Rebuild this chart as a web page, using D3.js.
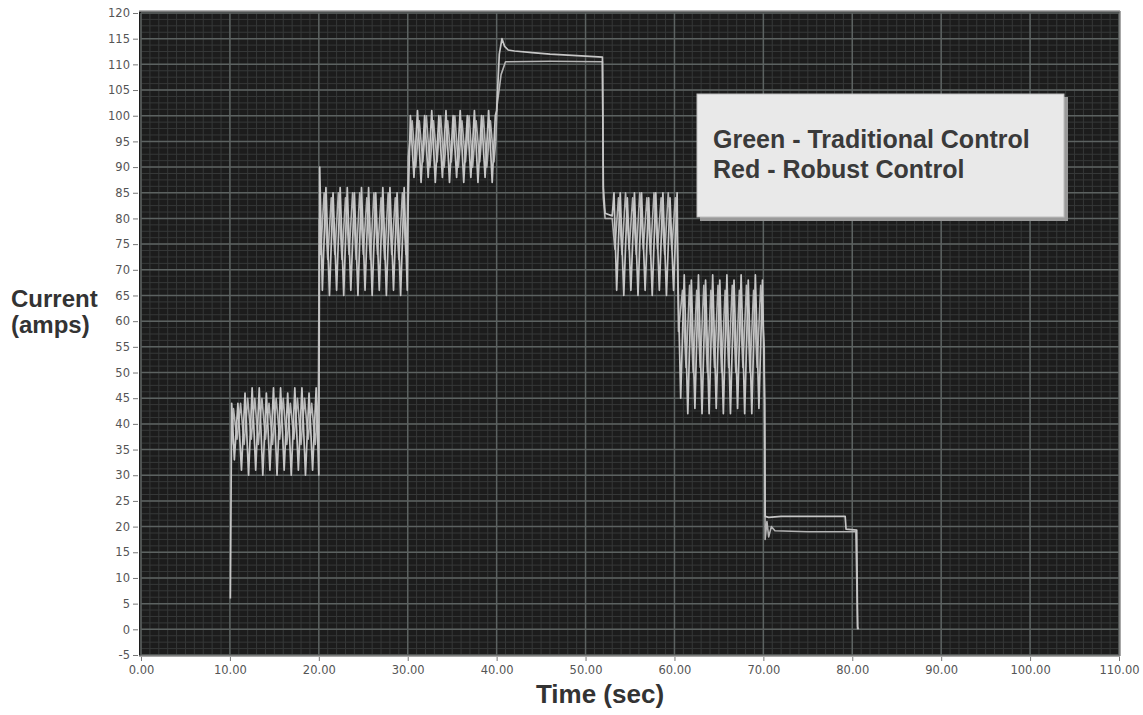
<!DOCTYPE html>
<html>
<head>
<meta charset="utf-8">
<script src="https://cdn.jsdelivr.net/npm/d3@7"></script>
<style>
  body { margin: 0; background: #fff; }
  svg { display: block; font-family: "Liberation Sans", Arial, sans-serif; }
  .tick text { font-family: "DejaVu Sans", sans-serif; font-size: 11.5px; fill: #555; }
  .tick line { stroke: #777; }
  .domain { display: none; }
</style>
</head>
<body>
<div id="chart"></div>
<script>
// Traditional control (large oscillation), time in sec, current in amps
var tradTime = [
  10.05, 10.2,
  10.5, 10.9, 11.3, 11.7, 12.1, 12.5, 12.9, 13.3, 13.7, 14.1, 14.5, 14.9, 15.3, 15.7, 16.1, 16.5, 16.9, 17.3, 17.7, 18.1, 18.5, 18.9, 19.3, 19.7, 20.0,
  20.1, 20.4, 20.8, 21.2, 21.6, 22.0, 22.4, 22.8, 23.2, 23.6, 24.0, 24.4, 24.8, 25.2, 25.6, 26.0, 26.4, 26.8, 27.2, 27.6, 28.0, 28.4, 28.8, 29.2, 29.6, 29.95,
  30.05, 30.3, 30.7, 31.1, 31.5, 31.9, 32.3, 32.7, 33.1, 33.5, 33.9, 34.3, 34.7, 35.1, 35.5, 35.9, 36.3, 36.7, 37.1, 37.5, 37.9, 38.3, 38.7, 39.1, 39.5, 39.85,
  40.0, 40.3, 40.6, 40.9, 41.3, 42, 44, 46, 48, 50, 51.9, 52.0, 52.2, 53.0,
  53.2, 53.5, 53.9, 54.3, 54.7, 55.1, 55.5, 55.9, 56.3, 56.7, 57.1, 57.5, 57.9, 58.3, 58.7, 59.1, 59.5, 59.9, 60.3,
  60.4, 60.7, 61.1, 61.5, 61.9, 62.3, 62.7, 63.1, 63.5, 63.9, 64.3, 64.7, 65.1, 65.5, 65.9, 66.3, 66.7, 67.1, 67.5, 67.9, 68.3, 68.7, 69.1, 69.5, 69.9, 70.15,
  70.2, 70.6, 72, 75, 79.2, 79.3, 80.5, 80.6
];
var tradCurrent = [
  6, 44,
  33, 44, 31, 46, 30, 47, 31, 47, 30, 46, 31, 47, 30, 47, 31, 46, 30, 47, 31, 47, 30, 46, 31, 47, 30,
  90, 66, 86, 65, 85, 66, 86, 65, 86, 66, 85, 65, 86, 66, 86, 65, 85, 66, 86, 65, 86, 66, 85, 65, 86, 66,
  83, 100, 88, 101, 87, 100, 88, 101, 87, 100, 88, 101, 87, 100, 88, 101, 87, 100, 88, 101, 87, 100, 88, 101, 87, 100,
  101, 112, 115, 113.5, 112.8, 112.6, 112.3, 112.0, 111.8, 111.6, 111.4, 86, 81, 80.5,
  85, 66, 85, 65, 84, 66, 85, 65, 85, 66, 84, 65, 85, 66, 85, 65, 84, 66, 85,
  68, 45, 69, 42, 68, 43, 69, 42, 68, 42, 69, 43, 68, 42, 69, 42, 68, 43, 69, 42, 68, 42, 69, 43, 68, 44,
  22, 21.8, 22, 22, 22, 19.5, 19.3, 0
];

// Robust control (smaller ripple, settles cleanly on the flat steps)
var robustTime = [
  10.2, 10.4, 10.8, 11.2, 11.6, 12.0, 12.4, 12.8, 13.2, 13.6, 14.0, 14.4, 14.8, 15.2, 15.6, 16.0, 16.4, 16.8, 17.2, 17.6, 18.0, 18.4, 18.8, 19.2, 19.6, 19.95,
  20.05, 20.2, 20.6, 21.0, 21.4, 21.8, 22.2, 22.6, 23.0, 23.4, 23.8, 24.2, 24.6, 25.0, 25.4, 25.8, 26.2, 26.6, 27.0, 27.4, 27.8, 28.2, 28.6, 29.0, 29.4, 29.8, 29.95,
  30.05, 30.5, 30.9, 31.3, 31.7, 32.1, 32.5, 32.9, 33.3, 33.7, 34.1, 34.5, 34.9, 35.3, 35.7, 36.1, 36.5, 36.9, 37.3, 37.7, 38.1, 38.5, 38.9, 39.3, 39.7, 39.9,
  40.05, 40.5, 41, 46, 51.9, 52.0, 52.2, 53.0,
  53.3, 53.7, 54.1, 54.5, 54.9, 55.3, 55.7, 56.1, 56.5, 56.9, 57.3, 57.7, 58.1, 58.5, 58.9, 59.3, 59.7, 60.1, 60.3,
  60.45, 60.9, 61.3, 61.7, 62.1, 62.5, 62.9, 63.3, 63.7, 64.1, 64.5, 64.9, 65.3, 65.7, 66.1, 66.5, 66.9, 67.3, 67.7, 68.1, 68.5, 68.9, 69.3, 69.7, 70.1,
  70.2, 70.4, 70.6, 70.9, 71.3, 75, 80.4, 80.6, 80.7
];
var robustCurrent = [
  36, 43, 37, 44, 36, 45, 37, 45, 36, 45, 37, 44, 36, 45, 37, 45, 36, 44, 37, 45, 36, 45, 37, 44, 36, 45,
  80, 73, 85, 72, 84, 73, 85, 72, 84, 73, 85, 72, 85, 73, 84, 72, 85, 73, 84, 72, 85, 73, 84, 72, 85, 73, 80,
  92, 99, 90, 99, 91, 100, 90, 99, 91, 100, 90, 99, 91, 100, 90, 99, 91, 100, 90, 99, 91, 100, 90, 99, 91, 95,
  102, 108, 110.5, 110.6, 110.5, 84, 80, 80,
  74, 84, 73, 85, 74, 84, 73, 85, 74, 84, 73, 85, 74, 84, 73, 85, 74, 84, 77,
  58, 66, 51, 67, 50, 66, 51, 67, 50, 66, 51, 67, 50, 66, 51, 67, 50, 66, 51, 67, 50, 66, 51, 67, 55,
  17.5, 21, 18, 20, 19.2, 19, 19, 0.5, 0
];

var yTicks = d3.range(-5, 121, 5);
var xTicks = d3.range(0, 111, 10);
var legendLines = ["Green - Traditional Control", "Red - Robust Control"];

var width = 1143, height = 715;
var plot = { left: 141, right: 1119, top: 13, bottom: 655 };

var svg = d3.select("#chart").append("svg")
    .attr("width", width)
    .attr("height", height);

var x = d3.scaleLinear().domain([0, 110]).range([plot.left, plot.right]);
var y = d3.scaleLinear().domain([-5, 120]).range([plot.bottom, plot.top]);

// plot background
svg.append("rect")
    .attr("x", plot.left - 2)
    .attr("y", plot.top - 2)
    .attr("width", plot.right - plot.left + 3)
    .attr("height", plot.bottom - plot.top + 3)
    .attr("fill", "#1c1c1c");

var grid = svg.append("g");

// minor grid
grid.selectAll(".vminor")
    .data(d3.range(0, 110.01, 1))
    .enter().append("line")
    .attr("x1", function(d) { return x(d); })
    .attr("x2", function(d) { return x(d); })
    .attr("y1", plot.top)
    .attr("y2", plot.bottom)
    .attr("stroke", "#363838")
    .attr("stroke-width", 1);

grid.selectAll(".hminor")
    .data(d3.range(-5, 120.01, 1.25))
    .enter().append("line")
    .attr("x1", plot.left)
    .attr("x2", plot.right)
    .attr("y1", function(d) { return y(d); })
    .attr("y2", function(d) { return y(d); })
    .attr("stroke", "#363838")
    .attr("stroke-width", 1);

// major grid
grid.selectAll(".vmajor")
    .data(xTicks)
    .enter().append("line")
    .attr("x1", function(d) { return x(d); })
    .attr("x2", function(d) { return x(d); })
    .attr("y1", plot.top)
    .attr("y2", plot.bottom)
    .attr("stroke", "#5c6261")
    .attr("stroke-width", 1.5);

grid.selectAll(".hmajor")
    .data(yTicks)
    .enter().append("line")
    .attr("x1", plot.left)
    .attr("x2", plot.right)
    .attr("y1", function(d) { return y(d); })
    .attr("y2", function(d) { return y(d); })
    .attr("stroke", "#5c6261")
    .attr("stroke-width", 1.5);

// frame edges
svg.append("line")
    .attr("x1", plot.left - 2).attr("x2", plot.right + 1)
    .attr("y1", plot.top - 2).attr("y2", plot.top - 2)
    .attr("stroke", "#9a9a9a").attr("stroke-width", 1.5);
svg.append("line")
    .attr("x1", plot.left - 2).attr("x2", plot.right + 1)
    .attr("y1", plot.bottom + 1).attr("y2", plot.bottom + 1)
    .attr("stroke", "#8a8a8a").attr("stroke-width", 1.5);
svg.append("line")
    .attr("x1", plot.right + 1).attr("x2", plot.right + 1)
    .attr("y1", plot.top - 2).attr("y2", plot.bottom + 1)
    .attr("stroke", "#8a8a8a").attr("stroke-width", 1.5);

// axes
svg.append("g")
    .attr("transform", "translate(" + (plot.left - 3) + ",0)")
    .call(d3.axisLeft(y).tickValues(yTicks).tickSize(5).tickPadding(3)
        .tickFormat(function(d) { return d; }));

svg.append("g")
    .attr("transform", "translate(0," + (plot.bottom + 2) + ")")
    .call(d3.axisBottom(x).tickValues(xTicks).tickSize(4).tickPadding(5)
        .tickFormat(function(d) { return d.toFixed(2); }));

// traces
var line = d3.line()
    .x(function(d) { return x(d[0]); })
    .y(function(d) { return y(d[1]); });

svg.append("path")
    .datum(d3.zip(robustTime, robustCurrent))
    .attr("fill", "none")
    .attr("stroke", "#b4b4b4")
    .attr("stroke-width", 1.6)
    .attr("stroke-linejoin", "round")
    .attr("d", line);

svg.append("path")
    .datum(d3.zip(tradTime, tradCurrent))
    .attr("fill", "none")
    .attr("stroke", "#c6c6c6")
    .attr("stroke-width", 1.7)
    .attr("stroke-linejoin", "round")
    .attr("d", line);

// legend box
var legend = svg.append("g");
legend.append("rect")
    .attr("x", 700).attr("y", 97)
    .attr("width", 368).attr("height", 124)
    .attr("fill", "#9a9a9a");
legend.append("rect")
    .attr("x", 697).attr("y", 94)
    .attr("width", 367).attr("height", 123)
    .attr("fill", "#e9e9e9")
    .attr("stroke", "#bdbdbd")
    .attr("stroke-width", 1);
legend.selectAll("text")
    .data(legendLines)
    .enter().append("text")
    .attr("x", 713)
    .attr("y", function(d, i) { return 148 + i * 30; })
    .attr("font-size", "25px")
    .attr("font-weight", "bold")
    .attr("fill", "#3a3a3a")
    .text(function(d) { return d; });

// axis titles
svg.append("text")
    .attr("x", 11).attr("y", 307)
    .attr("font-size", "24px")
    .attr("font-weight", "bold")
    .attr("fill", "#333")
    .text("Current");
svg.append("text")
    .attr("x", 11).attr("y", 333)
    .attr("font-size", "24px")
    .attr("font-weight", "bold")
    .attr("fill", "#333")
    .text("(amps)");

svg.append("text")
    .attr("x", 600).attr("y", 703)
    .attr("text-anchor", "middle")
    .attr("font-size", "26px")
    .attr("font-weight", "bold")
    .attr("fill", "#333")
    .text("Time (sec)");
</script>
</body>
</html>
